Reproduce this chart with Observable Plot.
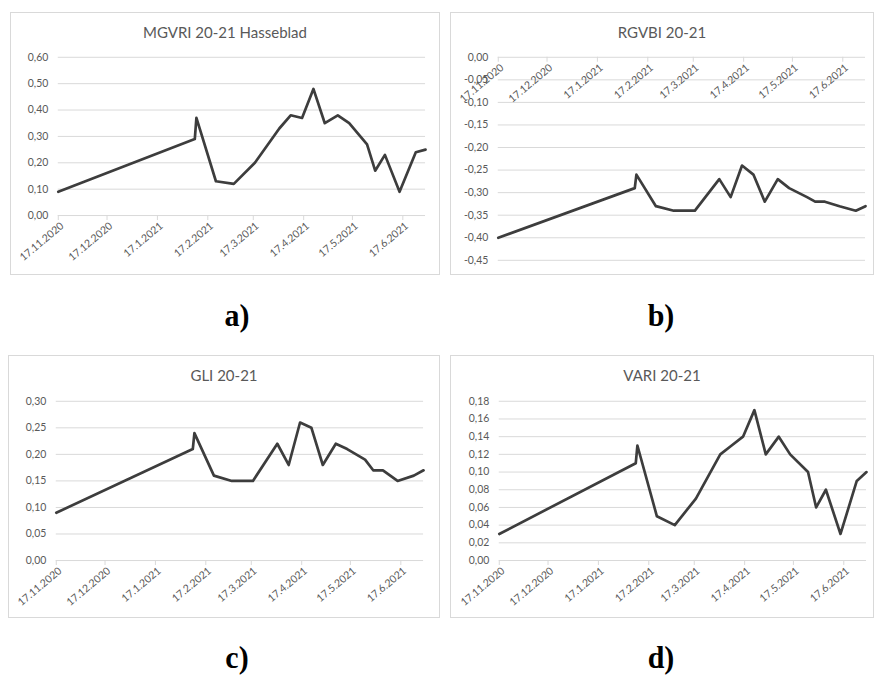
<!DOCTYPE html>
<html><head><meta charset="utf-8">
<script src="https://cdn.jsdelivr.net/npm/d3@7"></script>
<script src="https://cdn.jsdelivr.net/npm/@observablehq/plot@0.6"></script>
<style>
html,body{margin:0;padding:0;background:#fff;}
body{width:874px;height:675px;overflow:hidden;position:relative;font-family:Lato,"Open Sans",sans-serif;}
.panel{position:absolute;border:1px solid #d9d9d9;box-sizing:border-box;background:#fff;}
.panel svg{position:absolute;left:-1px;top:-1px;}
.title{position:absolute;left:0;right:0;top:10px;text-align:center;font-size:15px;color:#595959;z-index:2;}
.lab{position:absolute;font-family:"Liberation Serif","Times New Roman",serif;font-weight:bold;font-size:30px;color:#000;transform:translateX(-50%) scaleY(1.08);}
</style></head><body>
<script>
// ---- data ----
const dates = ["2020-11-17","2021-02-09","2021-02-10","2021-02-22","2021-03-05","2021-03-18","2021-04-02","2021-04-09","2021-04-16","2021-04-23","2021-04-30","2021-05-08","2021-05-15","2021-05-26","2021-05-31","2021-06-06","2021-06-15","2021-06-25","2021-07-01"];
const mgvri = [0.09,0.29,0.37,0.13,0.12,0.20,0.33,0.38,0.37,0.48,0.35,0.38,0.35,0.27,0.17,0.23,0.09,0.24,0.25];
const rgvbi = [-0.40,-0.29,-0.26,-0.33,-0.34,-0.34,-0.27,-0.31,-0.24,-0.26,-0.32,-0.27,-0.29,-0.31,-0.32,-0.32,-0.33,-0.34,-0.33];
const gli = [0.09,0.21,0.24,0.16,0.15,0.15,0.22,0.18,0.26,0.25,0.18,0.22,0.21,0.19,0.17,0.17,0.15,0.16,0.17];
const vari = [0.03,0.11,0.13,0.05,0.04,0.07,0.12,0.13,0.14,0.17,0.12,0.14,0.12,0.10,0.06,0.08,0.03,0.09,0.10];
const xTickDates = ["2020-11-17","2020-12-17","2021-01-17","2021-02-17","2021-03-17","2021-04-17","2021-05-17","2021-06-17"];
const titles = ["MGVRI 20-21 Hasseblad","RGVBI 20-21","GLI 20-21","VARI 20-21"];
const panelLabels = ["a)","b)","c)","d)"];
const yTicksA = [0,0.1,0.2,0.3,0.4,0.5,0.6];
const yTicksB = [0,-0.05,-0.10,-0.15,-0.20,-0.25,-0.30,-0.35,-0.40,-0.45];
const yTicksC = [0,0.05,0.10,0.15,0.20,0.25,0.30];
const yTicksD = [0,0.02,0.04,0.06,0.08,0.10,0.12,0.14,0.16,0.18];

const parse = s => new Date(s + "T00:00:00Z");
const fmtNum = v => (Math.abs(v) < 1e-9 ? 0 : v).toFixed(2).replace(".", ",");
const fmtDate = d => `${d.getUTCDate()}.${d.getUTCMonth()+1}.${d.getUTCFullYear()}`;
const tickDates = xTickDates.map(parse);

function chart(values, yDomain, yTicks, w, h, m) {
  const data = dates.map((d, i) => ({date: parse(d), v: values[i]}));
  return Plot.plot({
    width: w, height: h,
    marginLeft: m[0], marginRight: m[1], marginTop: m[2], marginBottom: m[3],
    style: {background: "transparent", fontFamily: "Lato, 'Open Sans', sans-serif", overflow: "visible"},
    x: {type: "utc", domain: [parse(dates[0]), parse(dates[dates.length-1])], axis: null},
    y: {domain: yDomain},
    marks: [
      Plot.gridY(yTicks, {stroke: "#d9d9d9", strokeOpacity: 1, strokeWidth: 1}),
      Plot.axisY(yTicks, {tickSize: 0, tickPadding: 10, tickFormat: fmtNum, fontSize: 10.5, fill: "#595959", label: null}),
      Plot.ruleX(tickDates, {x: d => d, y1: 0, y2: 0, insetBottom: -5, stroke: "#d9d9d9"}),
      Plot.text(tickDates, {x: d => d, y: 0, text: fmtDate, rotate: -40, textAnchor: "end", dx: 4, dy: 9, fill: "#595959", fontSize: 10.5}),
      Plot.line(data, {x: "date", y: "v", stroke: "#3d3d3d", strokeWidth: 2.7, strokeLinejoin: "round"})
    ]
  });
}

const panels = [
  {left: 10, top: 12, w: 430, h: 263, vals: mgvri, dom: [0, 0.6], ticks: yTicksA, m: [48, 13, 45, 59]},
  {left: 450, top: 12, w: 424, h: 263, vals: rgvbi, dom: [-0.45, 0], ticks: yTicksB, m: [48, 7, 45, 14]},
  {left: 8, top: 355, w: 432, h: 263, vals: gli, dom: [0, 0.3], ticks: yTicksC, m: [48, 15, 46, 57]},
  {left: 450, top: 355, w: 424, h: 263, vals: vari, dom: [0, 0.18], ticks: yTicksD, m: [49, 6, 46, 57]}
];
panels.forEach((p, i) => {
  const div = document.createElement("div");
  div.className = "panel";
  Object.assign(div.style, {left: p.left + "px", top: p.top + "px", width: p.w + "px", height: p.h + "px"});
  const t = document.createElement("div");
  t.className = "title";
  t.textContent = titles[i];
  div.appendChild(t);
  div.appendChild(chart(p.vals, p.dom, p.ticks, p.w, p.h, p.m));
  document.body.appendChild(div);
});
const labPos = [[237, 298], [661, 298], [237, 640], [661, 640]];
panelLabels.forEach((s, i) => {
  const l = document.createElement("div");
  l.className = "lab";
  l.textContent = s;
  l.style.left = labPos[i][0] + "px";
  l.style.top = labPos[i][1] + "px";
  document.body.appendChild(l);
});
</script>
</body></html>
